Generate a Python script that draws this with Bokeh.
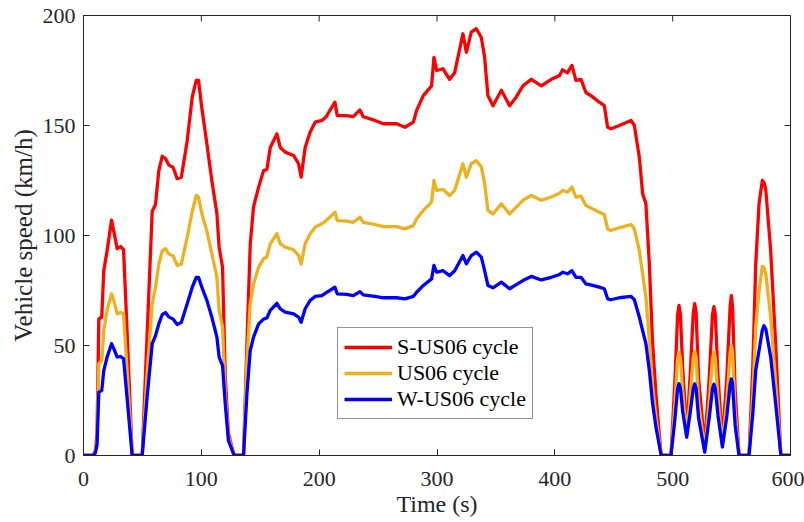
from bokeh.plotting import figure
from bokeh.models import Legend, LegendItem, FixedTicker
from bokeh.embed import file_html
from bokeh.resources import INLINE
import math

time_s = [0, 8, 10, 11.5, 13, 15.5, 17.2, 20, 23.8, 25.7, 28.6, 31.4, 34, 37.5, 41.3,
          49.8, 54, 58.3, 61.1, 63.9, 66.8, 69.6, 72.4, 76, 79.5, 83, 88, 92.3, 95.7, 97.6,
          100.4, 104.7, 108.9, 113.2, 115.1, 118, 120.3, 123, 127.3, 128.5,
          135.8, 138.7, 141.5, 144.3, 148.6, 152.8, 155.6, 158.5, 164.1, 167, 171.2, 178.3,
          182.5, 184.7, 188.1, 192.4, 196.6, 202.3, 206, 209, 213.4, 215.3, 223.3, 229,
          234.6, 237.4, 247.3, 254.4, 265.7, 272.8, 279.9, 282.7, 288.4, 295.4, 297.4,
          299.7, 305, 310.7, 315, 322, 324.9, 329.1, 333.4, 337.6, 340.4, 343.2, 347.5,
          354.6, 361.6, 367.3, 372.9, 380, 388.5, 397, 404, 406.6, 410.8, 414.5, 417.9,
          422.2, 426.4, 432.1, 437.7, 442, 444.8, 447.6, 454.7, 464.7, 467.5, 471.7, 474.5,
          477.3, 480.2, 483, 485.8, 490, 491, 498.6, 502, 504.2, 505.4, 506.6, 508.5,
          511.9, 515, 517.5, 518.7, 519.9, 522, 527.2, 531, 533.8, 535, 536.2, 538.5,
          542.2, 546, 548.8, 549.8, 550.8, 553, 556.3, 564.8, 568, 570.5,
          573.3, 576.1, 577.5, 579, 583.2, 587.4, 591.7, 592.5, 600]

s_us06 = [0, 0, 2, 10, 62, 63, 84, 93, 107, 102, 94, 95, 93.6, 50, 0,
          0, 55, 111, 114, 129.5, 136, 135, 132, 131, 125.8, 126.5, 143, 163, 170.5, 170.5,
          158, 141.7, 125, 110, 94.7, 85.6, 35.6, 10, 1, 0,
          0, 50.8, 96, 113, 122, 129.5, 130, 140, 146.2, 140, 137.9, 136.4,
          132.6, 126.5, 140, 147, 151.5, 152.3, 154, 156.8, 160.6, 154.5, 154.5, 154,
          157.1, 154, 152.3, 150.8, 150.8, 149.2, 151.5, 156.8, 163.6, 168, 181,
          175, 175.8, 171, 174, 191.7, 183.3, 192.4, 194, 190, 181, 163.6, 159,
          166, 159, 163, 168, 171, 168, 171, 172.7, 175.3, 174, 177.3, 170.5,
          171, 165, 163, 160.6, 159, 149.2, 148.5, 150, 152.3, 150, 135.6, 119,
          114.4, 87, 50.8, 28, 0.8, 0, 0, 35, 64, 68.2, 64, 40,
          10, 38, 65, 69, 65, 35, 4, 35, 64, 67.7, 64, 36,
          6, 36, 68, 72.7, 68, 30, 0, 0, 40, 87,
          114.4, 125, 124, 121, 93, 50.8, 0.8, 0, 0]

us06 = [0, 0, 1.5, 8, 41.7, 43, 56.8, 66, 73.5, 70.5, 64.4, 65, 64.4, 34, 0,
        0, 37, 69, 76.5, 87, 93, 94, 91.5, 90.8, 86.4, 87, 99.2, 111, 118.2, 117.5,
        110, 102, 91.7, 81, 66, 58.3, 28, 8.3, 0.8, 0,
        0, 43, 69, 78, 85.6, 89.4, 90.2, 96.2, 100.8, 96.2, 94.7, 93.5,
        91, 87, 96.2, 100.8, 103.8, 105.3, 106.8, 108.3, 110.6, 106.8, 106.5, 106,
        108.3, 106, 105, 104, 104, 103, 104.5, 107.6, 111.4, 115.2, 125,
        120.5, 121, 118.2, 120.5, 132.6, 126.5, 132.6, 134, 131.3, 123.7, 111.4, 109.8,
        114.4, 109.8, 112.9, 116, 118.2, 116, 117.5, 119.2, 120.5, 119.7, 122, 117.5,
        117.9, 113.6, 112.1, 110.6, 109.5, 103, 102.3, 103.5, 105, 103, 93.2, 82.6,
        72, 52.3, 31, 17.4, 0.8, 0, 0, 24, 44, 47, 44, 29,
        9, 28, 44.5, 47.4, 44.5, 24, 2.5, 24, 44, 47, 44, 25,
        5, 25, 47, 50, 47, 20, 0, 0, 27, 58.3,
        75, 86, 85.5, 82.6, 62.9, 32.6, 0.8, 0, 0]

w_us06 = [0, 0, 1, 5, 28.8, 29.5, 38.6, 44.7, 50.8, 48.6, 44.7, 45, 44, 23, 0,
          0, 26.5, 50.8, 54.5, 59.8, 64, 65, 63, 62, 59.5, 60.5, 69, 76.5, 81, 81,
          76.5, 70.5, 62.9, 53.8, 44.7, 40.9, 23.5, 6.8, 0.8, 0,
          0, 28, 47.7, 53.8, 59.8, 62, 62.5, 66, 69.2, 66.7, 65.2, 64.4,
          62.9, 60.6, 66.7, 70.5, 72.3, 72.7, 74, 75, 76.5, 73.5, 73.2, 72.7,
          74.5, 73, 72.3, 71.7, 71.7, 71.2, 72.3, 74.2, 77.3, 80.3, 86.4,
          83.3, 84, 81.8, 84, 90.9, 87.1, 90.9, 92.4, 90.2, 84, 77.3, 76.2,
          78.8, 75.8, 77.7, 79.5, 81.4, 79.8, 81, 82.3, 83.3, 82.6, 84, 81,
          81, 78, 77.3, 76.5, 75.8, 71.2, 70.8, 71.7, 72.3, 70.8, 62.9, 56.8,
          50.8, 38.6, 23.5, 12.9, 0.8, 0, 0, 17, 30.5, 32.6, 30.5, 20,
          8.3, 20, 30.5, 32.6, 30.5, 17, 1.5, 17, 30.3, 32.4, 30.3, 18,
          3.8, 18, 32.5, 34.8, 32.5, 14, 0, 0, 19, 38.6,
          47.7, 57, 59, 57.6, 44.7, 23.5, 0.8, 0, 0]

series_names = ["S-US06 cycle", "US06 cycle", "W-US06 cycle"]
series_colors = ["#FF0000", "#EDB120", "#0000FF"]
x_ticks = [0, 100, 200, 300, 400, 500, 600]
y_ticks = [0, 50, 100, 150, 200]

FONT = "Liberation Serif"
AX = "#262626"

p = figure(width=804, height=522, x_range=(x_ticks[0], x_ticks[-1]), y_range=(y_ticks[0], y_ticks[-1]),
           output_backend="svg", toolbar_location=None,
           min_border_left=83, min_border_right=14, min_border_top=15, min_border_bottom=67,
           background_fill_color="white", border_fill_color="white")
p.outline_line_color = AX
p.outline_line_width = 1
p.xgrid.visible = False
p.ygrid.visible = False

renderers = []
for ys, c in zip([s_us06, us06, w_us06], series_colors):
    r = p.line(time_s, ys, line_color=c, line_width=3.3, line_join="round")
    renderers.append(r)

for ax in (p.xaxis[0], p.yaxis[0]):
    ax.axis_line_color = AX
    ax.major_tick_line_color = AX
    ax.major_tick_in = 6
    ax.major_tick_out = 0
    ax.minor_tick_line_color = None
    ax.major_label_text_font = FONT
    ax.major_label_text_color = AX
    ax.major_label_text_font_size = "22px"
    ax.axis_label_text_font = FONT
    ax.axis_label_text_color = AX
    ax.axis_label_text_font_style = "normal"

p.xaxis.axis_label_text_font_size = "24px"
p.yaxis.axis_label_text_font_size = "25px"
p.xaxis.ticker = FixedTicker(ticks=x_ticks)
p.yaxis.ticker = FixedTicker(ticks=y_ticks)
p.xaxis.axis_label = "Time (s)"
p.yaxis.axis_label = "Vehicle speed (km/h)"
p.xaxis.major_label_standoff = 16
p.yaxis.major_label_standoff = 8
p.xaxis.axis_label_standoff = 2
p.yaxis.axis_label_standoff = 3

# mirrored inward ticks on top and right edges (MATLAB "box on" style), clipped to frame
p.scatter(x=x_ticks, y=[y_ticks[-1]] * len(x_ticks), marker="dash", size=12,
          angle=math.pi / 2, line_color=AX, line_width=1)
p.scatter(x=[x_ticks[-1]] * len(y_ticks), y=y_ticks, marker="dash", size=12,
          line_color=AX, line_width=1)

legend = Legend(items=[LegendItem(label=n, renderers=[r]) for n, r in zip(series_names, renderers)],
                location=(254, 36), label_text_font=FONT, label_text_font_size="22px",
                label_text_line_height=1.0,
                label_text_color="black", glyph_width=48, glyph_height=24, label_height=24,
                label_standoff=5, padding=6, spacing=0, margin=0,
                border_line_color=AX, border_line_width=1, background_fill_alpha=1)
p.add_layout(legend, "center")

open("out.html", "w").write(file_html(p, INLINE))
